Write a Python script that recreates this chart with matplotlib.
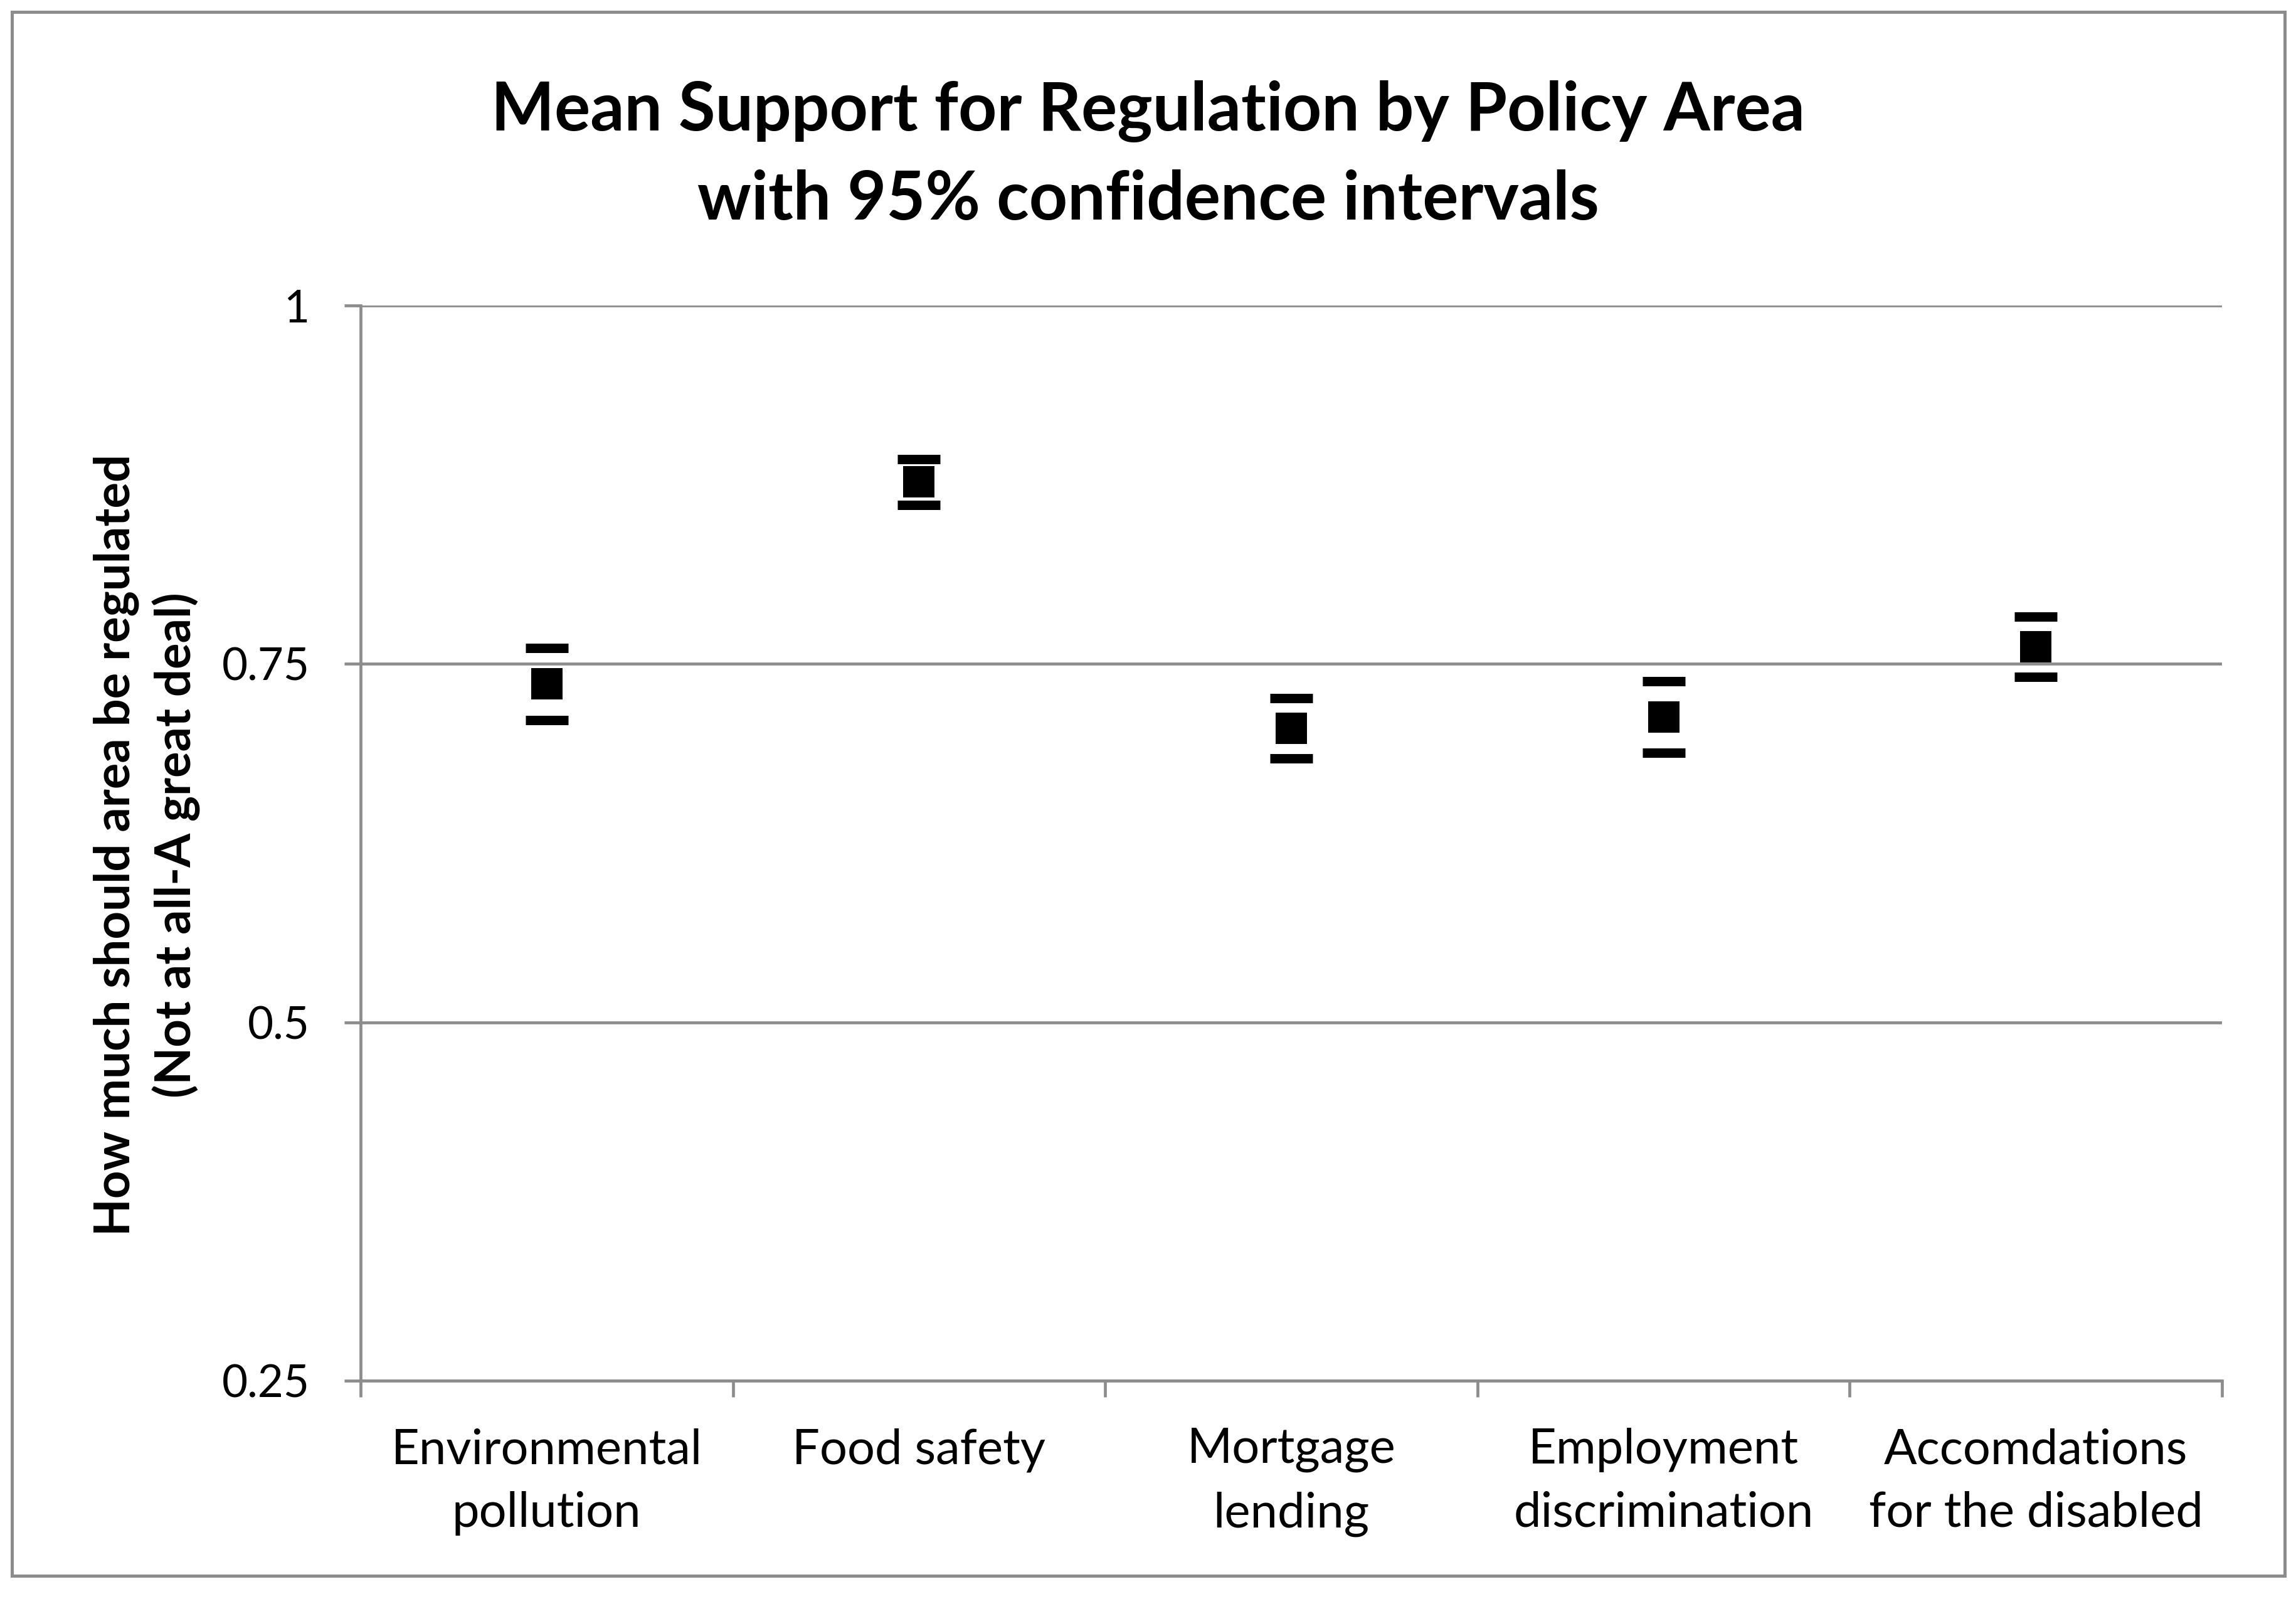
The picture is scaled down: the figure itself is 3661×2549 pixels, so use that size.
import matplotlib
matplotlib.use("Agg")
import matplotlib.pyplot as plt
from matplotlib.patches import Rectangle

# values
areas = ["Environmental\npollution", "Food safety", "Mortgage\nlending",
         "Employment\ndiscrimination", "Accomdations\nfor the disabled"]
means = [0.736, 0.877, 0.705, 0.713, 0.762]
lower = [0.711, 0.861, 0.684, 0.688, 0.741]
upper = [0.761, 0.893, 0.726, 0.738, 0.783]
yticks = [0.25, 0.5, 0.75, 1.0]
ytick_labels = ["0.25", "0.5", "0.75", "1"]

grey = "#8c8c8c"
plt.rcParams['font.family'] = ['Lato', 'DejaVu Sans']

fig = plt.figure(figsize=(36.62, 25.49), dpi=100)
ax = fig.add_axes([0.1570, 0.1365, 0.8105, 0.6724])

x = list(range(len(areas)))
ax.plot(x, means, ls='none', marker='s', ms=36.7, mew=0, color='black', zorder=3)
ax.plot(x, lower, ls='none', marker='_', ms=49, mew=10.8, color='black', zorder=3)
ax.plot(x, upper, ls='none', marker='_', ms=49, mew=10.8, color='black', zorder=3)

ax.set_xlim(-0.5, len(areas) - 0.5)
ax.set_ylim(0.25, 1.0)
ax.set_yticks(yticks)
ax.set_yticklabels(ytick_labels, fontsize=51)
ax.set_xticks(x)
ax.set_xticklabels(areas, fontsize=56, linespacing=1.52)
ax.set_xticks([i - 0.5 for i in range(len(areas) + 1)], minor=True)

ax.tick_params(axis='y', which='major', direction='out', length=18.7, width=3.4,
               color=grey, pad=40)
ax.tick_params(axis='x', which='major', length=0, pad=54)
ax.tick_params(axis='x', which='minor', direction='out', length=18.7, width=3.4,
               color=grey)

ax.grid(axis='y', color=grey, lw=3.4)
ax.set_axisbelow(True)
for side in ['top', 'right']:
    ax.spines[side].set_visible(False)
for side in ['left', 'bottom']:
    ax.spines[side].set_color(grey)
    ax.spines[side].set_linewidth(3.4)

fig.text(0.5, 0.9184, "Mean Support for Regulation by Policy Area",
         ha='center', va='baseline', fontsize=77, fontweight='bold')
fig.text(0.5, 0.8627, "with 95% confidence intervals",
         ha='center', va='baseline', fontsize=77, fontweight='bold')

fig.text(0.064, 0.4716, "How much should area be regulated\n(Not at all-A great deal)",
         rotation=90, ha='center', va='center', fontsize=56, fontweight='bold',
         linespacing=1.33)

fig.add_artist(Rectangle((0.0052, 0.0145), 0.9896, 0.978, transform=fig.transFigure,
                         fill=False, edgecolor=grey, lw=3.6))

fig.savefig("out.png", dpi=100, facecolor='white')
